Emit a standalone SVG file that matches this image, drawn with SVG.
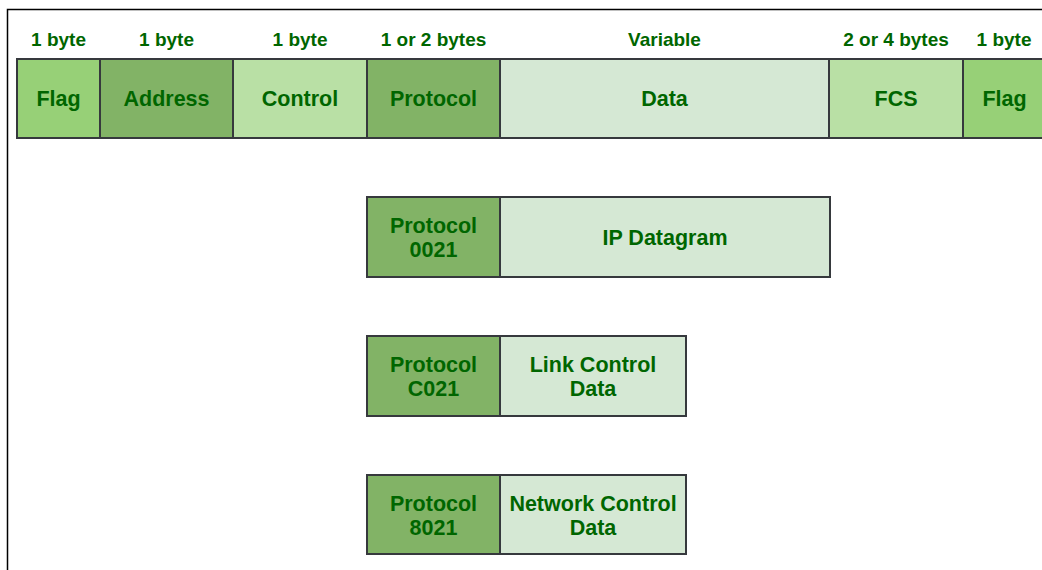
<svg xmlns="http://www.w3.org/2000/svg" width="1042" height="570" viewBox="0 0 1042 570">
<style>
.b{stroke:#36393d;stroke-width:2}
.f1{fill:#97d077}.f2{fill:#82b366}.f3{fill:#b9e0a5}.f4{fill:#d5e8d4}
text{font-family:"Liberation Sans",Arial,sans-serif;font-weight:bold;fill:#006600;text-anchor:middle}
.l{font-size:19px}.t{font-size:21.5px}
</style>
<rect width="1042" height="570" fill="#ffffff"/>
<path d="M7.5 570 V9.5 H1042" fill="none" stroke="#000" stroke-width="1.5"/>
<g id="labels">
<text class="l" x="58.5" y="46">1 byte</text>
<text class="l" x="166.5" y="46">1 byte</text>
<text class="l" x="300" y="46">1 byte</text>
<text class="l" x="433.5" y="46">1 or 2 bytes</text>
<text class="l" x="664.5" y="46">Variable</text>
<text class="l" x="896" y="46">2 or 4 bytes</text>
<text class="l" x="1004" y="46">1 byte</text>
</g>
<g id="frame">
<g id="flag1"><rect class="b f1" x="17" y="59" width="83" height="79"/><text class="t" x="58.5" y="106">Flag</text></g>
<g id="address"><rect class="b f2" x="100" y="59" width="133" height="79"/><text class="t" x="166.5" y="106">Address</text></g>
<g id="control"><rect class="b f3" x="233" y="59" width="134" height="79"/><text class="t" x="300" y="106">Control</text></g>
<g id="protocol"><rect class="b f2" x="367" y="59" width="133" height="79"/><text class="t" x="433.5" y="106">Protocol</text></g>
<g id="data"><rect class="b f4" x="500" y="59" width="329" height="79"/><text class="t" x="664.5" y="106">Data</text></g>
<g id="fcs"><rect class="b f3" x="829" y="59" width="134" height="79"/><text class="t" x="896" y="106">FCS</text></g>
<g id="flag2"><rect class="b f1" x="963" y="59" width="83" height="79"/><text class="t" x="1004.5" y="106">Flag</text></g>
</g>
<g id="row-ip">
<g id="p0021"><rect class="b f2" x="367" y="197" width="133" height="80"/><text class="t" x="433.5" y="233">Protocol</text><text class="t" x="433.5" y="257">0021</text></g>
<g id="ipdg"><rect class="b f4" x="500" y="197" width="330" height="80"/><text class="t" x="665" y="245">IP Datagram</text></g>
</g>
<g id="row-lcp">
<g id="pc021"><rect class="b f2" x="367" y="336" width="133" height="80"/><text class="t" x="433.5" y="372">Protocol</text><text class="t" x="433.5" y="396">C021</text></g>
<g id="lcd"><rect class="b f4" x="500" y="336" width="186" height="80"/><text class="t" x="593" y="372">Link Control</text><text class="t" x="593" y="396">Data</text></g>
</g>
<g id="row-ncp">
<g id="p8021"><rect class="b f2" x="367" y="475" width="133" height="79"/><text class="t" x="433.5" y="511">Protocol</text><text class="t" x="433.5" y="535">8021</text></g>
<g id="ncd"><rect class="b f4" x="500" y="475" width="186" height="79"/><text class="t" x="593" y="511">Network Control</text><text class="t" x="593" y="535">Data</text></g>
</g>
<g id="connectors"></g>
</svg>
